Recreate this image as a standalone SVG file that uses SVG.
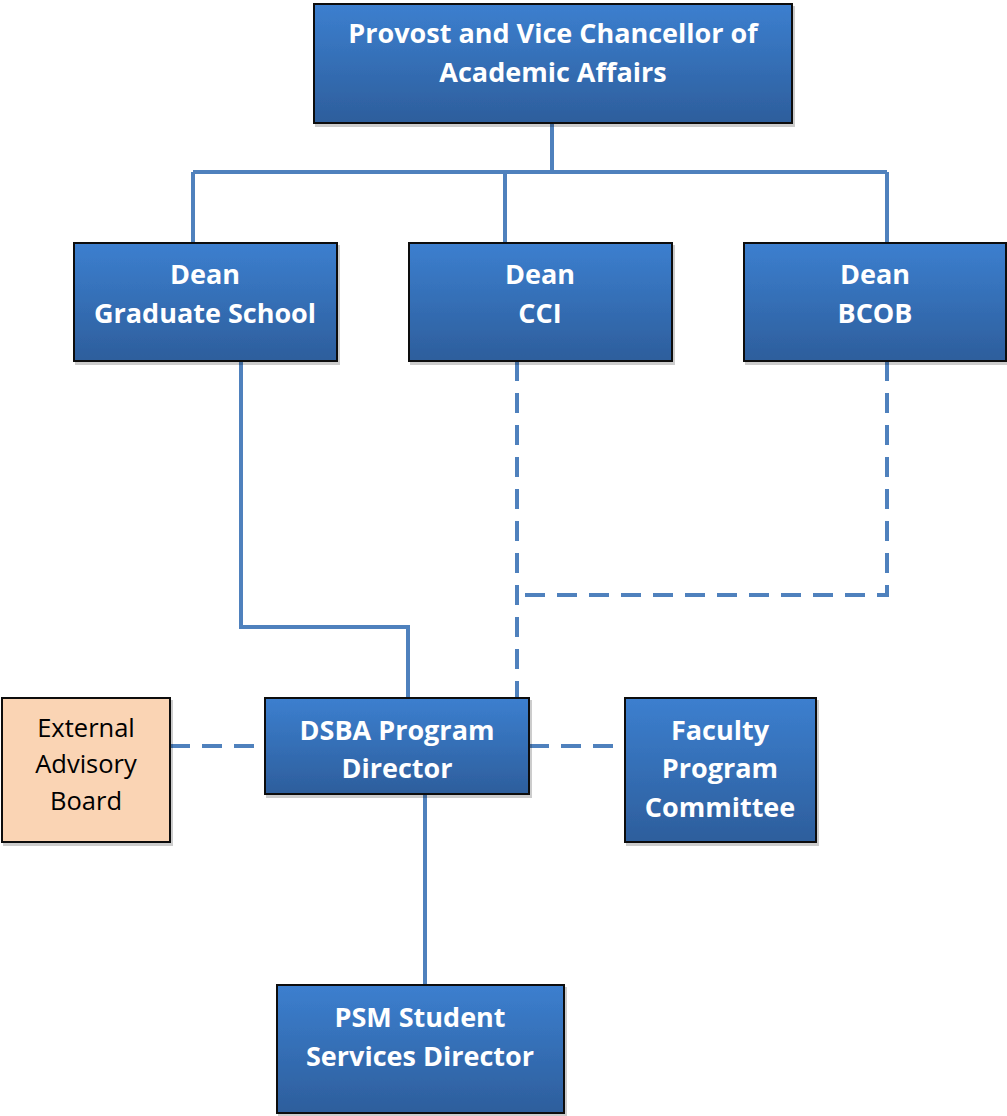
<svg xmlns="http://www.w3.org/2000/svg" width="1007" height="1116" viewBox="0 0 1007 1116">
<defs>
<linearGradient id="blue" x1="0" y1="0" x2="0" y2="1">
<stop offset="0" stop-color="#3C7FCF"/>
<stop offset="1" stop-color="#2D5E9C"/>
</linearGradient>
<filter id="sh" x="-5%" y="-5%" width="115%" height="115%">
<feOffset dx="2" dy="3" in="SourceAlpha" result="o"/>
<feComponentTransfer in="o" result="s"><feFuncA type="linear" slope="0.2"/></feComponentTransfer>
<feMerge><feMergeNode in="s"/><feMergeNode in="SourceGraphic"/></feMerge>
</filter>
</defs>
<style>
.box{fill:url(#blue);stroke:#111;stroke-width:2;filter:url(#sh)}
.peach{fill:#FAD4B4;stroke:#111;stroke-width:2;filter:url(#sh)}
.t{font-family:"Open Sans","Liberation Sans",sans-serif;font-weight:bold;font-size:27px;fill:#fff;text-anchor:middle}
.tb{font-family:"Open Sans","Liberation Sans",sans-serif;font-size:25.5px;fill:#000;text-anchor:middle}
.c{fill:none;stroke:#4F81BD;stroke-width:4}
.d{fill:none;stroke:#4F81BD;stroke-width:4;stroke-dasharray:20 12}
</style>
<g id="connectors">
<path class="c" d="M552,123 V172 M193,172 H887 M193,172 V243 M505,172 V243 M887,172 V243"/>
<path class="c" d="M241,361 V627 H408 V698"/>
<path class="d" d="M517,361 V698"/>
<path class="d" d="M887,361 V595 H517"/>
<path class="d" d="M170,746 H265"/>
<path class="d" d="M529,746 H625"/>
<path class="c" d="M425,794 V985"/>
</g>
<g id="provost"><rect class="box" x="314" y="4" width="478" height="119"/>
<text class="t" x="553" y="43">Provost and Vice Chancellor of</text>
<text class="t" x="553" y="82">Academic Affairs</text></g>
<g id="dean-gs"><rect class="box" x="74" y="243" width="263" height="118"/>
<text class="t" x="205" y="284">Dean</text><text class="t" x="205" y="323">Graduate School</text></g>
<g id="dean-cci"><rect class="box" x="409" y="243" width="263" height="118"/>
<text class="t" x="540" y="284">Dean</text><text class="t" x="540" y="323">CCI</text></g>
<g id="dean-bcob"><rect class="box" x="744" y="243" width="262" height="118"/>
<text class="t" x="875" y="284">Dean</text><text class="t" x="875" y="323">BCOB</text></g>
<g id="external"><rect class="peach" x="2" y="698" width="168" height="144"/>
<text class="tb" x="86" y="737">External</text><text class="tb" x="86" y="773">Advisory</text><text class="tb" x="86" y="810">Board</text></g>
<g id="dsba"><rect class="box" x="265" y="698" width="264" height="96"/>
<text class="t" x="397" y="740">DSBA Program</text><text class="t" x="397" y="778">Director</text></g>
<g id="faculty"><rect class="box" x="625" y="698" width="191" height="144"/>
<text class="t" x="720" y="740">Faculty</text><text class="t" x="720" y="778">Program</text><text class="t" x="720" y="817">Committee</text></g>
<g id="psm"><rect class="box" x="277" y="985" width="287" height="128"/>
<text class="t" x="420" y="1027">PSM Student</text><text class="t" x="420" y="1066">Services Director</text></g>
</svg>
